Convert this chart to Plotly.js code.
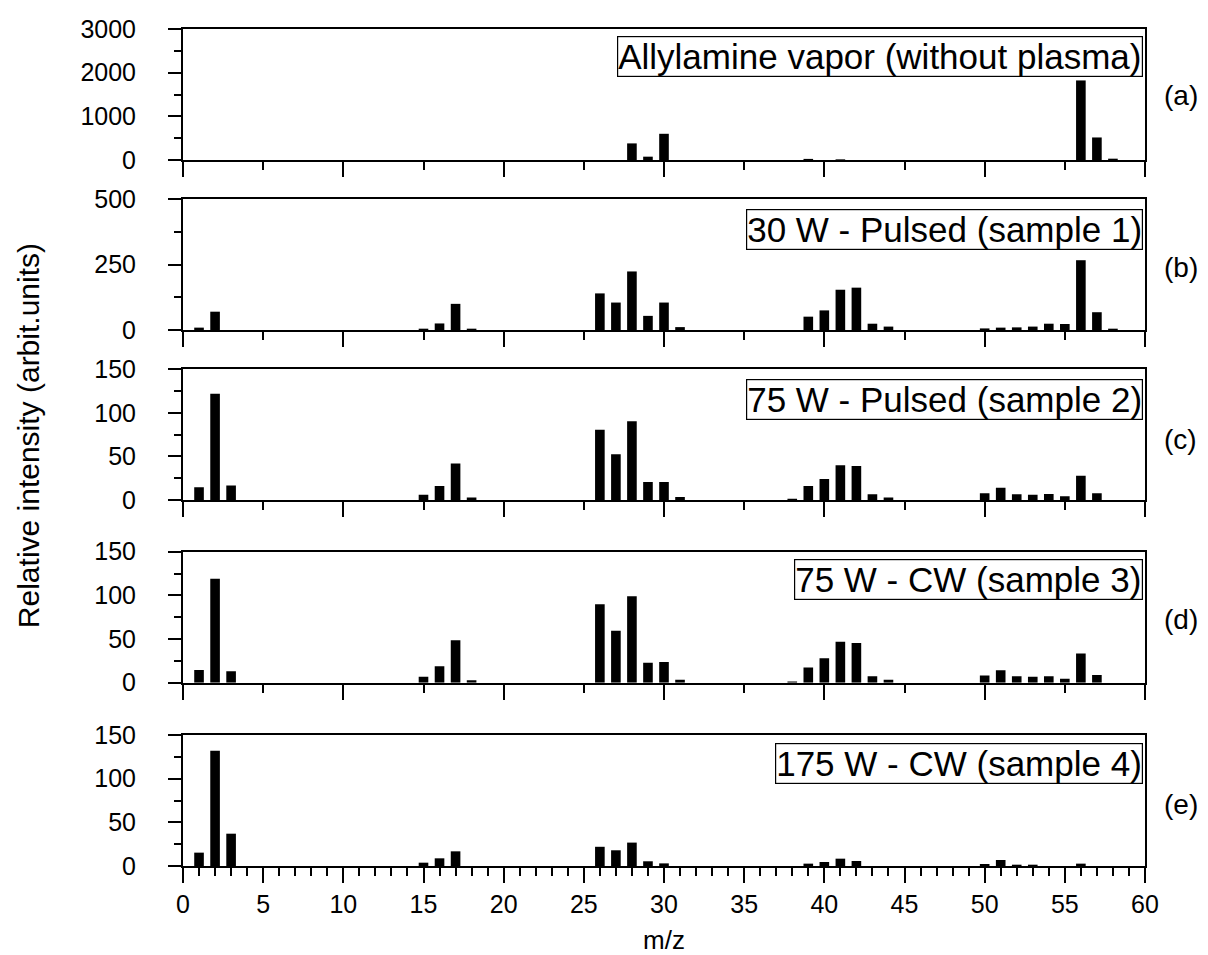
<!DOCTYPE html>
<html>
<head>
<meta charset="utf-8">
<script src="https://cdn.plot.ly/plotly-3.0.1.min.js"></script>
<style>html,body{margin:0;padding:0;background:#fff;}#chart{width:1208px;height:955px;}</style>
</head>
<body>
<div id="chart"></div>
<script>
// ---- data ----
const mzA = [28, 29, 30, 39, 41, 56, 57, 58];
const intA = [380, 76, 600, 25, 15, 1822, 516, 30];

const mzB = [1, 2, 15, 16, 17, 18, 26, 27, 28, 29, 30, 31, 39, 40, 41, 42, 43, 44, 50, 51, 52, 53, 54, 55, 56, 57, 58];
const intB = [9, 70, 5, 25, 100, 5, 140, 105, 224, 54, 105, 11, 51, 75, 154, 162, 24, 13, 6, 9, 10, 13, 24, 23, 267, 68, 5];

const mzC = [1, 2, 3, 15, 16, 17, 18, 26, 27, 28, 29, 30, 31, 38, 39, 40, 41, 42, 43, 44, 50, 51, 52, 53, 54, 55, 56, 57];
const intC = [14.5, 122, 16.5, 6, 16, 42, 2.7, 80.7, 52.4, 90.3, 20.7, 20.7, 3.4, 1.5, 16, 24, 40, 39, 6.5, 2.7, 7.6, 14, 6.5, 6, 6.8, 4.2, 27.7, 7.6];

const mzD = [1, 2, 3, 15, 16, 17, 18, 26, 27, 28, 29, 30, 31, 38, 39, 40, 41, 42, 43, 44, 50, 51, 52, 53, 54, 55, 56, 57];
const intD = [14.5, 119, 13, 6.9, 18.7, 48.5, 2.7, 89.7, 59.5, 98.9, 22.9, 23.7, 3.4, 1.5, 17.3, 27.9, 47, 45.6, 7.5, 3.4, 8.3, 14.3, 7.5, 6.8, 7.5, 4.5, 33.5, 8.7];

const mzE = [1, 2, 3, 15, 16, 17, 26, 27, 28, 29, 30, 39, 40, 41, 42, 50, 51, 52, 53, 56];
const intE = [15.3, 132, 37, 3.8, 8.8, 16.8, 22, 18, 26.8, 5.4, 3, 2.7, 4.6, 8.4, 5.7, 2.3, 6.9, 1.5, 1.5, 2.7];

const panelLabels = ["Allylamine vapor (without plasma)", "30 W - Pulsed (sample 1)", "75 W - Pulsed (sample 2)", "75 W - CW (sample 3)", "175 W - CW (sample 4)"];
const panelLetters = ["(a)", "(b)", "(c)", "(d)", "(e)"];
const yRanges = [[0, 3000], [0, 500], [0, 150], [0, 150], [0, 150]];
const yMajor = [1000, 250, 50, 50, 50];
const xTitle = "m/z";
const yTitle = "Relative intensity (arbit.units)";

// ---- layout geometry ----
const domains = [[0.8435, 1.0], [0.6404, 0.7965], [0.4373, 0.5934], [0.2190, 0.3755], [0.0, 0.1565]];
const boxTops = [0.9916, 0.785, 0.5818, 0.3668, 0.147];
const letterY = [0.920, 0.7145, 0.509, 0.294, 0.0729];

const FONT = "Liberation Sans, Arial, sans-serif";
const series = [[mzA, intA], [mzB, intB], [mzC, intC], [mzD, intD], [mzE, intE]];

const data = series.map((s, i) => ({
  type: 'bar',
  x: s[0],
  y: s[1],
  width: 0.6,
  marker: {color: '#000', line: {width: 0}},
  xaxis: i === 0 ? 'x' : 'x' + (i + 1),
  yaxis: i === 0 ? 'y' : 'y' + (i + 1),
  showlegend: false,
  hoverinfo: 'x+y'
}));

const layout = {
  width: 1208, height: 955,
  margin: {l: 183, r: 63, t: 29, b: 89},
  paper_bgcolor: '#fff', plot_bgcolor: '#fff',
  font: {family: FONT, color: '#000', size: 25},
  showlegend: false,
  annotations: []
};

for (let i = 0; i < 5; i++) {
  const sfx = i === 0 ? '' : String(i + 1);
  const last = i === 4;
  layout['xaxis' + sfx] = {
    domain: [0, 1], anchor: 'y' + sfx, range: [0, 60],
    showline: true, linewidth: 2, linecolor: '#000', mirror: true,
    showgrid: false, zeroline: false,
    ticks: 'outside', ticklen: 15, tickwidth: 2, tickcolor: '#000',
    dtick: last ? 5 : 10, tick0: 0,
    minor: {ticks: 'outside', ticklen: 8, tickwidth: 2, tickcolor: '#000', dtick: last ? 1 : 5, showgrid: false},
    showticklabels: last,
    tickfont: {family: FONT, size: 25, color: '#000'},
    fixedrange: true
  };
  layout['yaxis' + sfx] = {
    domain: domains[i], anchor: 'x' + sfx, range: yRanges[i],
    showline: true, linewidth: 2, linecolor: '#000', mirror: true,
    showgrid: false, zeroline: false,
    ticks: 'outside', ticklen: 13, tickwidth: 2, tickcolor: '#000',
    dtick: yMajor[i], tick0: 0,
    minor: {ticks: 'outside', ticklen: 7, tickwidth: 2, tickcolor: '#000', dtick: yMajor[i] / 2, showgrid: false},
    tickfont: {family: FONT, size: 25, color: '#000'},
    ticklabelstandoff: 27,
    fixedrange: true
  };
  layout.annotations.push({
    xref: 'paper', yref: 'paper', x: 0.998, y: boxTops[i],
    xanchor: 'right', yanchor: 'top', showarrow: false,
    text: panelLabels[i],
    font: {family: FONT, size: 35, color: '#000'},
    bordercolor: '#000', borderwidth: 1.2, borderpad: 0, bgcolor: '#fff'
  });
  layout.annotations.push({
    xref: 'paper', yref: 'paper', x: 1.0374, y: letterY[i],
    xanchor: 'center', yanchor: 'middle', showarrow: false,
    text: panelLetters[i],
    font: {family: FONT, size: 28, color: '#000'}
  });
}

layout.annotations.push({
  xref: 'paper', yref: 'paper', x: 0.5, y: -0.0884,
  xanchor: 'center', yanchor: 'middle', showarrow: false,
  text: xTitle, font: {family: FONT, size: 26, color: '#000'}
});
layout.annotations.push({
  xref: 'paper', yref: 'paper', x: -0.161, y: 0.5137,
  xanchor: 'center', yanchor: 'middle', showarrow: false, textangle: -90,
  text: yTitle, font: {family: FONT, size: 30, color: '#000'}
});

Plotly.newPlot('chart', data, layout, {displayModeBar: false, staticPlot: true});
</script>
</body>
</html>
